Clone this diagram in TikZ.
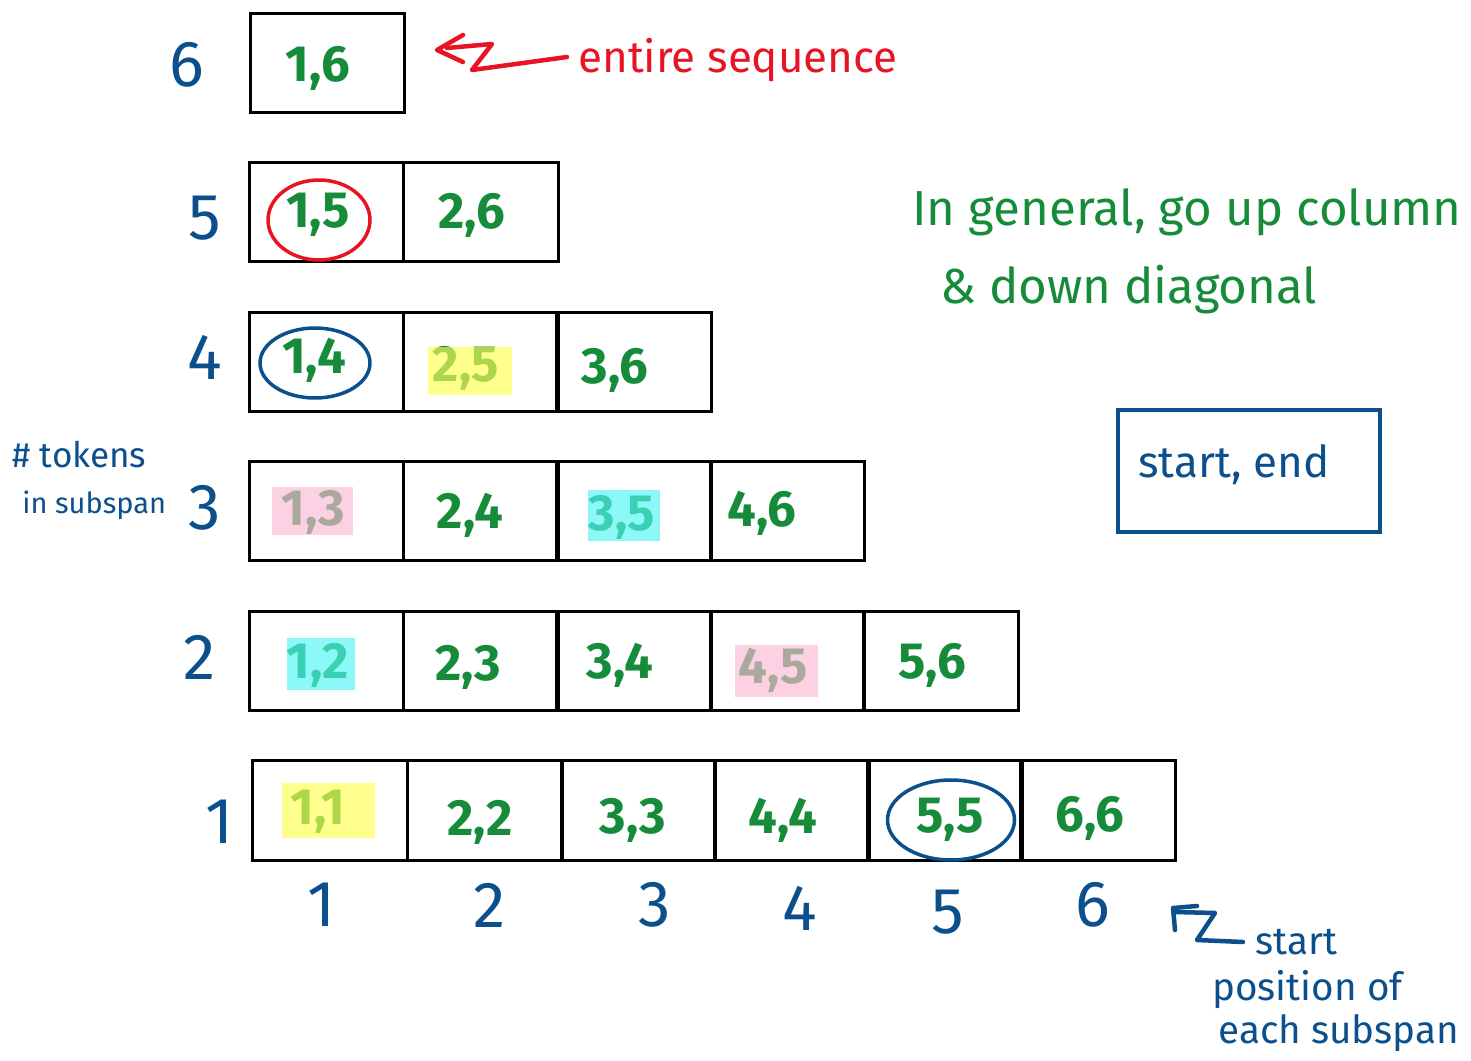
\documentclass[tikz,border=0pt]{standalone}
\usepackage{fontspec}
\setmainfont{Fira Sans}
\usetikzlibrary{shapes.geometric}
\definecolor{pblue}{RGB}{11,79,140}
\definecolor{pgreen}{RGB}{22,140,58}
\definecolor{pred}{RGB}{232,20,36}
\definecolor{hyellow}{RGB}{255,255,80}
\definecolor{hpink}{RGB}{250,185,212}
\definecolor{hcyan}{RGB}{80,245,245}
\begin{document}
\begin{tikzpicture}[x=0.02cm,y=-0.02cm,
 cell/.style={draw=black,line width=0.06cm,minimum width=3.1cm,minimum height=2cm,inner sep=0pt},
 pair/.style={text=pgreen,font=\fontsize{29}{35}\selectfont\bfseries,inner sep=0pt},
 rowlab/.style={text=pblue,font=\fontsize{37}{44}\selectfont,inner sep=0pt},
 hl/.style={fill opacity=0.65},
 ring/.style={ellipse,draw,line width=0.07cm,inner sep=0pt},
 pen/.style={line width=0.09cm,line cap=round,line join=round},
 note/.style={inner sep=0pt,anchor=west}]
\useasboundingbox (0,0) rectangle (1471,1061);
\fill[white] (0,0) rectangle (1471,1061);

% cells
\node[cell] (c16) at (327.5,63) {};
\foreach \i/\x in {1/326.5,2/481}{\node[cell] (r5c\i) at (\x,212) {};}
\foreach \i/\x in {1/326.5,2/481,3/634}{\node[cell] (r4c\i) at (\x,362) {};}
\foreach \i/\x in {1/326.5,2/481,3/634,4/787.5}{\node[cell] (r3c\i) at (\x,511) {};}
\foreach \i/\x in {1/326.5,2/481,3/634,4/787.5,5/941}{\node[cell] (r2c\i) at (\x,661) {};}
\foreach \i/\x in {1/330,2/485,3/638.5,4/792,5/945,6/1098}{\node[cell] (r1c\i) at (\x,810.5) {};}

% pair labels
\node[pair] (t16) at (318,68) {1,6};
\node[pair] (t15) at (318,215) {1,5};
\node[pair] (t26) at (472,215) {2,6};
\node[pair] (t14) at (314,360) {1,4};
\node[pair] (t25) at (466,368) {2,5};
\node[pair] (t36) at (615,370) {3,6};
\node[pair] (t13) at (313,512) {1,3};
\node[pair] (t24) at (470,515) {2,4};
\node[pair] (t35) at (622,517) {3,5};
\node[pair] (t46) at (762,513) {4,6};
\node[pair] (t12) at (318,665) {1,2};
\node[pair] (t23) at (468,667) {2,3};
\node[pair] (t34) at (620,665) {3,4};
\node[pair] (t45) at (773,670) {4,5};
\node[pair] (t56) at (932,665) {5,6};
\node[pair] (t11) at (318,812) {1,1};
\node[pair] (t22) at (480,822) {2,2};
\node[pair] (t33) at (633,820) {3,3};
\node[pair] (t44) at (783,820) {4,4};
\node[pair] (t55) at (950,820) {5,5};
\node[pair] (t66) at (1090,818) {6,6};

% highlights
\fill[hl,hyellow] (428,347) rectangle (512,395);
\fill[hl,hyellow] (282,783) rectangle (375,838);
\fill[hl,hpink] (272,487) rectangle (353,535);
\fill[hl,hpink] (735,645) rectangle (818,697);
\fill[hl,hcyan] (588,490) rectangle (660,541);
\fill[hl,hcyan] (287,638) rectangle (355,690);

% rings
\node[ring,draw=pred,minimum width=2.04cm,minimum height=1.6cm] (o15) at (319,220) {};
\node[ring,draw=pblue,minimum width=2.2cm,minimum height=1.4cm] (o14) at (315,363) {};
\node[ring,draw=pblue,minimum width=2.54cm,minimum height=1.6cm] (o55) at (951,820) {};

% row labels
\node[rowlab] (l6) at (187,65) {6};
\node[rowlab] (l5) at (205,218) {5};
\node[rowlab] (l4) at (205,357) {4};
\node[rowlab] (l3) at (205,508) {3};
\node[rowlab] (l2) at (200,657) {2};
\node[rowlab] (l1) at (220,822) {1};

% column labels
\node[rowlab] (k1) at (322,905) {1};
\node[rowlab] (k2) at (490,905) {2};
\node[rowlab] (k3) at (655,905) {3};
\node[rowlab] (k4) at (800,908) {4};
\node[rowlab] (k5) at (948,912) {5};
\node[rowlab] (k6) at (1093,905) {6};

% entire sequence note
\node[note,text=pred,font=\fontsize{25}{30}\selectfont] (ent) at (578,60) {entire sequence};
\coordinate (ra0) at (567,57);
\coordinate (ra1) at (472,70);
\coordinate (ra2) at (492,44);
\coordinate (ra3) at (447,48);
\coordinate (rh1) at (463,35);
\coordinate (rh0) at (437,50);
\coordinate (rh2) at (463,62);
\draw[pen,pred] (ra0) -- (ra1) -- (ra2) -- (ra3);
\draw[pen,pred] (rh1) -- (rh0) -- (rh2);

% general note
\node[note,text=pgreen,font=\fontsize{28}{33}\selectfont] (gen1) at (912,212) {In general, go up column};
\node[note,text=pgreen,font=\fontsize{28}{33}\selectfont] (gen2) at (940,290) {\& down diagonal};

% legend box
\node[draw=pblue,line width=0.08cm,minimum width=5.24cm,minimum height=2.44cm,inner sep=0pt] (legend) at (1249,471) {};
\node[text=pblue,font=\fontsize{25}{30}\selectfont,inner sep=0pt] (legtxt) at (1234,465) {start, end};

% tokens note
\node[note,text=pblue,font=\fontsize{20}{24}\selectfont] (tok1) at (12,455) {\# tokens};
\node[note,text=pblue,font=\fontsize{16.5}{20}\selectfont] (tok2) at (22,505) {in subspan};

% start position note
\node[note,text=pblue,font=\fontsize{22}{26}\selectfont] (sp1) at (1255,942) {start};
\node[note,text=pblue,font=\fontsize{22}{26}\selectfont] (sp2) at (1212,990) {position of};
\node[note,text=pblue,font=\fontsize{22}{26}\selectfont] (sp3) at (1218,1033) {each subspan};
\coordinate (ba0) at (1243,942);
\coordinate (ba1) at (1197,940);
\coordinate (ba2) at (1215,913);
\coordinate (ba3) at (1175,912);
\coordinate (bh1) at (1175,930);
\coordinate (bh0) at (1173,908);
\coordinate (bh2) at (1197,906);
\draw[pen,pblue] (ba0) -- (ba1) -- (ba2) -- (ba3);
\draw[pen,pblue] (bh1) -- (bh0) -- (bh2);
\end{tikzpicture}
\end{document}
